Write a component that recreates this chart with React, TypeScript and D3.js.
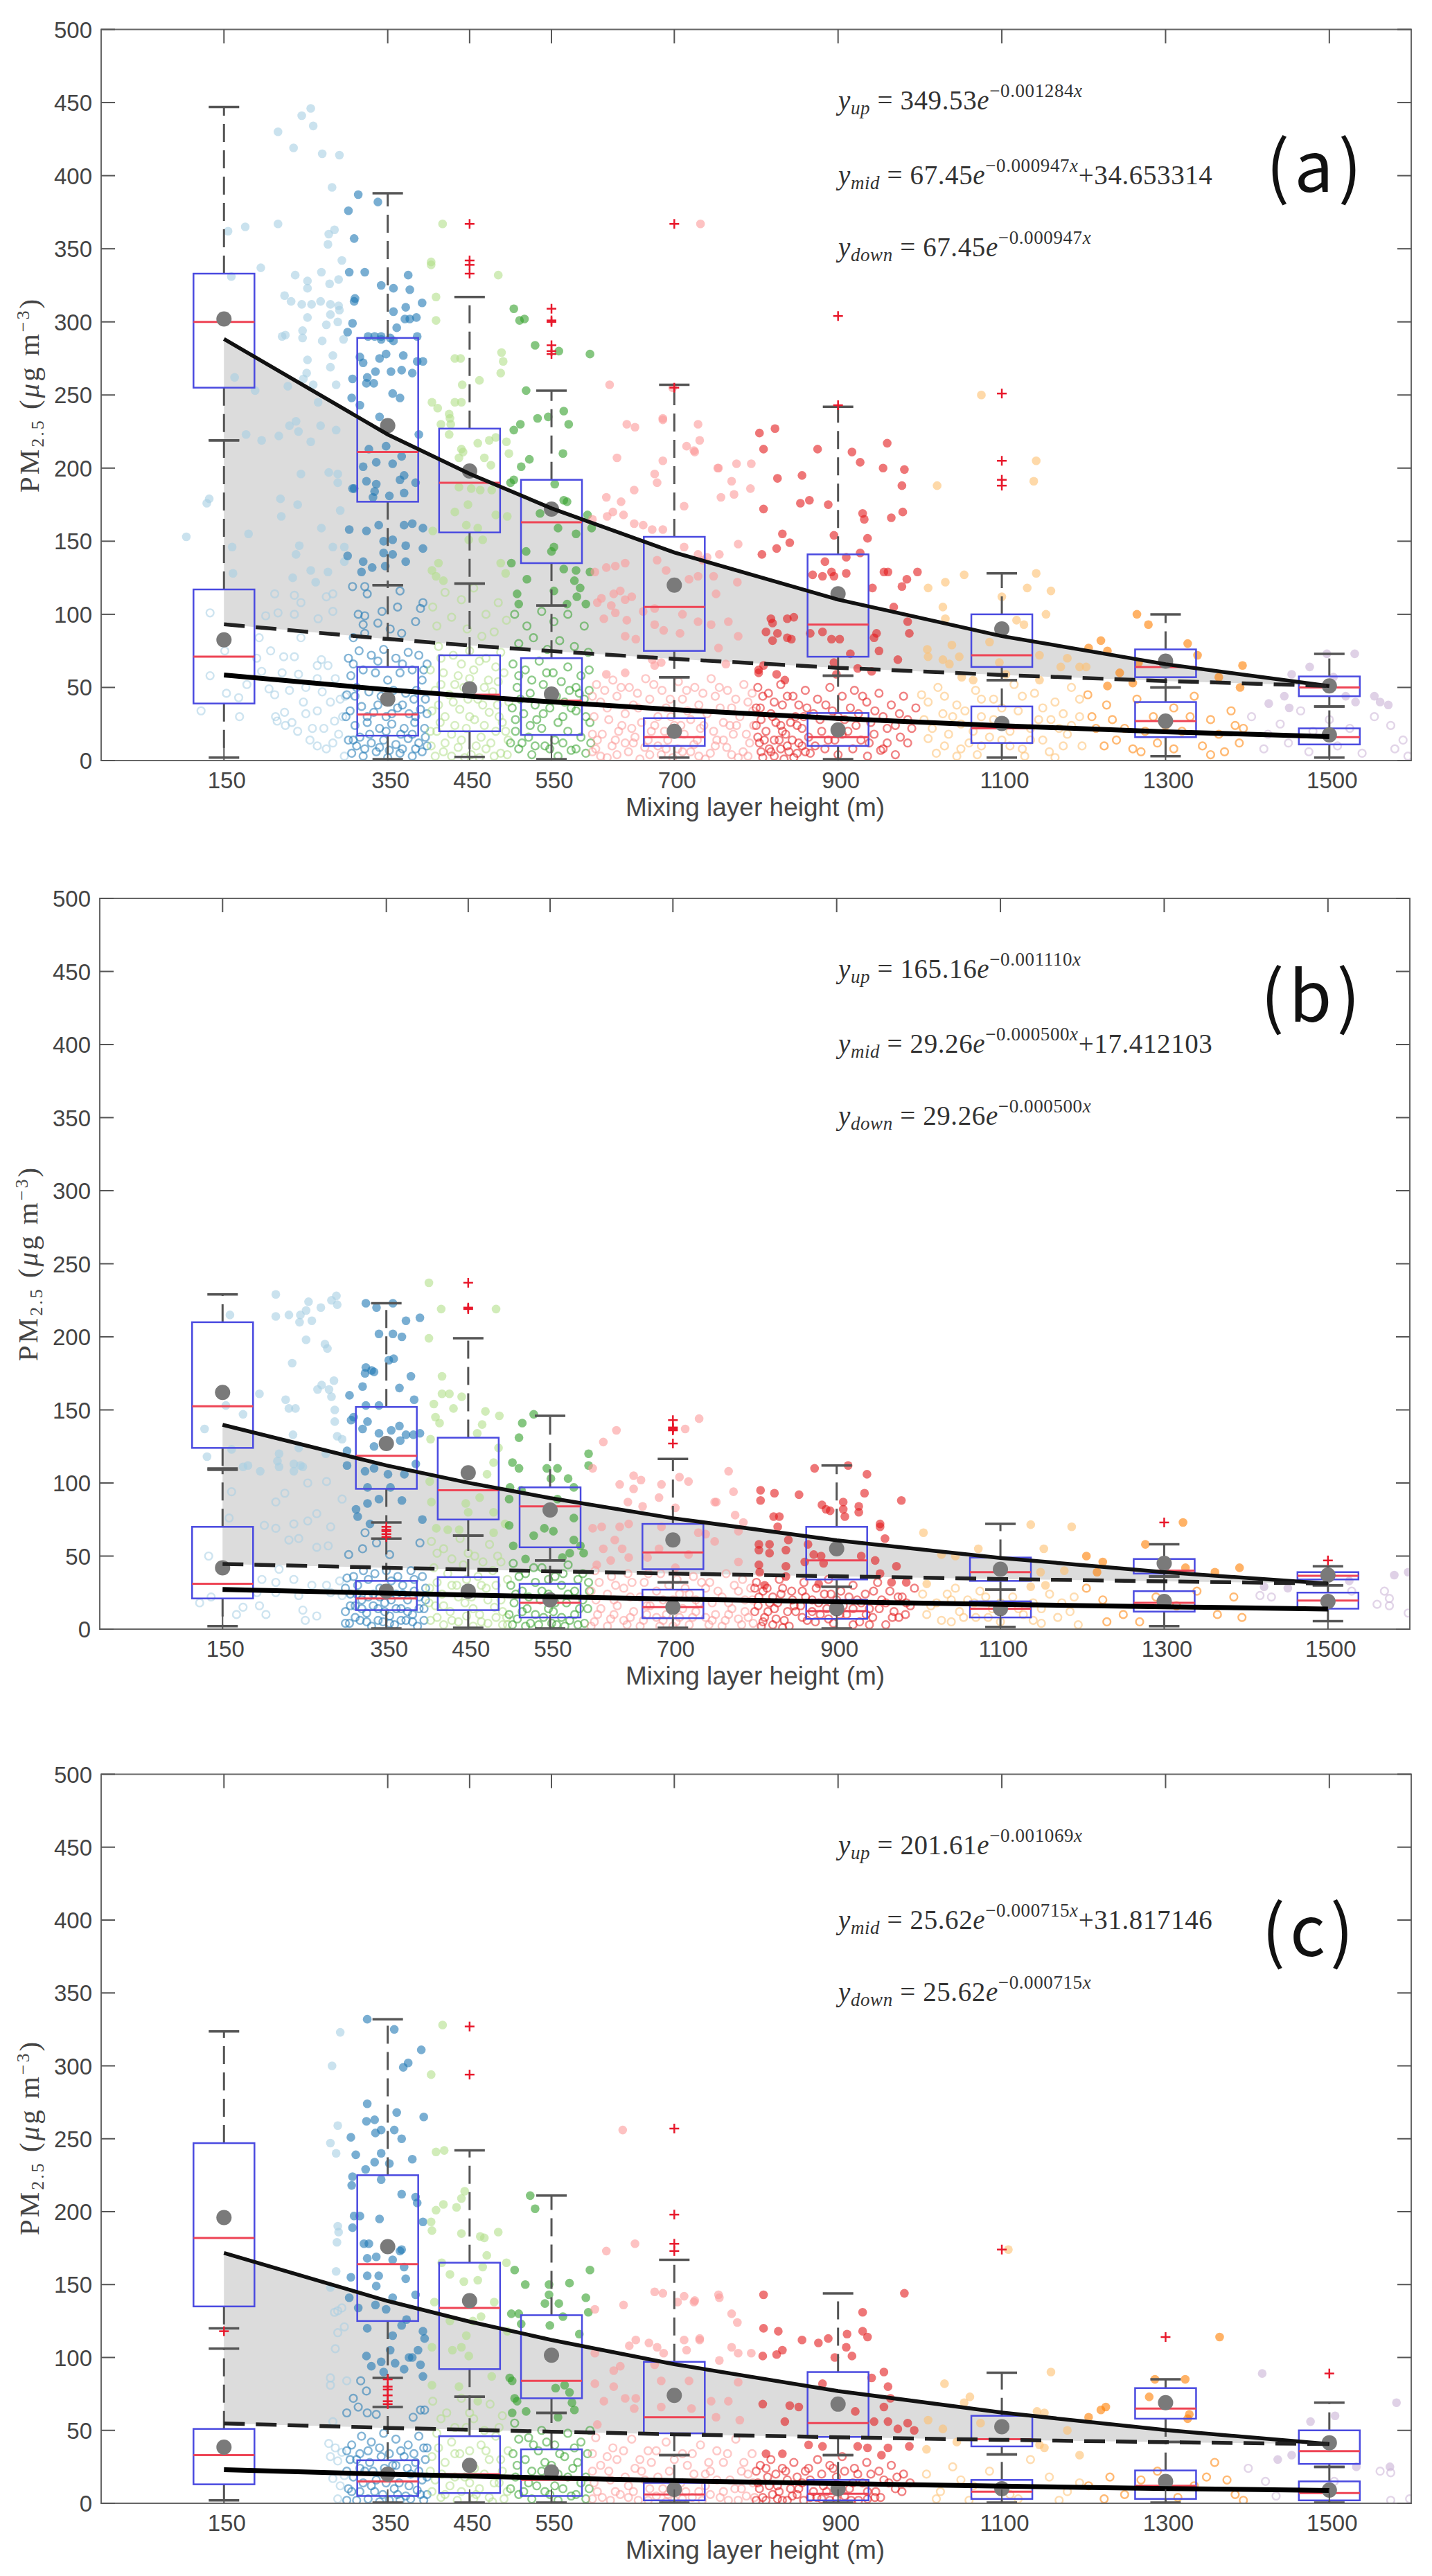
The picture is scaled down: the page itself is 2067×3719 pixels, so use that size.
import React from "react";
import * as d3 from "d3";

const categories = [150, 350, 450, 550, 700, 900, 1100, 1300, 1500];
const yTicks = [0, 50, 100, 150, 200, 250, 300, 350, 400, 450, 500];
const binColors = ["#a6cee3", "#1f78b4", "#b2df8a", "#33a02c", "#fb9a99", "#e31a1c", "#fdbf6f", "#ff7f00", "#cab2d6"];

// fitted curves read at each category
const aUp = [288.3, 223.0, 196.1, 172.5, 142.3, 110.1, 85.1, 65.9, 50.9];
const aMid = [93.2, 83.1, 78.7, 74.8, 69.5, 63.4, 58.5, 54.4, 51.0];
const aDown = [58.5, 48.4, 44.0, 40.1, 34.8, 28.8, 23.8, 19.7, 16.3];
const bUp = [139.8, 112.0, 100.2, 89.7, 75.9, 60.8, 48.7, 39.0, 31.2];
const bMid = [44.6, 42.0, 40.8, 39.6, 38.0, 36.1, 34.3, 32.7, 31.2];
const bDown = [27.1, 24.6, 23.4, 22.2, 20.6, 18.7, 16.9, 15.3, 13.8];
const cUp = [171.7, 138.7, 124.6, 112.0, 95.4, 77.0, 62.2, 50.2, 40.6];
const cMid = [54.8, 51.7, 50.4, 49.1, 47.3, 45.3, 43.5, 41.9, 40.6];
const cDown = [23.0, 19.9, 18.6, 17.3, 15.5, 13.5, 11.7, 10.1, 8.8];

// boxes: [q1, median, q3, whiskerLow, whiskerHigh, mean]
const aBoxUpper = [[255,300,333,219,447,302],[177,211,289,120,388,229],[156,190,227,121,317,198],[135,163,192,106,253,172],[75,105,153,57,257,120],[71,93,141,58,242,114],[64,72,100,55,128,90],[57,64,76,50,100,68],[44,50,57.5,37,73,51]];
const aBoxLower = [[39,71,117,2,219,82.5],[17,31.5,64,1,120,42],[20,45,72,2.5,121,49],[17.5,41,70,1,106,45.5],[10,16,29,2,57,20],[10,16,32.5,1,58,21],[12,22,37,2,55,25.4],[16,27,40,3,50,27],[11,16,22,2,37,17.5]];
const bBoxUpper = [[124,152.5,210,110,229,162],[96,118.6,152,73,223,127],[75,95,131,64,199,107],[56,84,97,47,146,81.5],[41,52.5,72,32,116.5,61],[34,47,70,29,112,55],[33,39,49,27,72,41],[38,40,48,36,58,45],[34,36.5,39,30,43,37]];
const bBoxLower = [[21,31,70,2,109,42],[13,21,33,0.5,62,26],[13,23,35.6,1,64,26],[8,18,31,0.5,47,20],[7.5,15,27,1,32,15],[7,12.3,20,0.5,29,14],[8,14,19,1.5,27,14],[12,18,26,2,36,19],[14,19.6,25,5.5,30,19]];
const cBoxUpper = [[135,182,247,120,323.6,196],[125,164,225,86,332,176],[92,134,165,73,242,139],[72,84,129,62,211,101.5],[48,59,97,33,167,74],[45.5,55,90,33,144,68],[39,44,60,33.5,89.5,52.5],[58,65,79,42,85,69],[27,35.7,50,25,69,41.5]];
const cBoxLower = [[13,33,51,2,106,38.5],[5,15,29.5,0.5,66,20],[7,20,46,0.5,73,26],[5,16,37,0.5,62,21.5],[2,6,14,0.5,33,9.5],[2,6.5,16,0.5,33,10],[3,8,16,0.5,33.5,10],[3,12,22.5,0.5,42,15],[2,7,15,0.5,25,9]];

// outliers, flat [category, value, ...]
const aOutliers = [450,367,450,342,450,339,450,333,550,309,550,301,550,300,550,284,550,280,550,278,700,367,700,255,900,304,900,243,1100,251,1100,205,1100,192,1100,188];
const bOutliers = [350,63,350,65,350,67,350,68,350,70,450,237,450,219,450,220,700,127,700,136,700,137,700,138,700,143,1300,73,1500,47];
const cOutliers = [150,118,350,85,350,80,350,78,350,74,350,70,350,68,450,327,450,294,700,257,700,198,700,178,700,173,1100,174,1300,114,1500,89];

// filled dots, flat [height, pm, ...], one list per height bin
const aFilled0 = [256,446,245,441,259,434,216,430,235,419,270,415,291,414,282,392,216,367,176,365,155,362,285,363,278,360,277,353,294,342,195,337,237,332,269,334,159,331,290,329,252,328,279,326,252,323,224,318,232,314,245,312,257,312,268,314,280,312,290,311,291,308,280,305,252,303,289,300,275,298,246,294,225,291,221,290,246,289,270,287,296,288,283,277,252,274,280,269,251,265,247,261,163,262,259,257,228,256,287,257,188,253,265,245,238,232,230,229,268,229,177,223,217,222,241,225,287,226,196,219,256,218,244,196,278,197,289,196,289,190,219,179,240,175,292,171,220,167,269,159,180,155,283,146,297,146,242,147,238,141,160,146,297,136,161,128,256,130,277,129,234,125,262,122,132,179,129,176,104,153];
const aFilled1 = [314,387,338,382,302,376,309,357,303,334,322,334,375,332,342,325,357,323,377,322,310,316,309,314,392,313,372,310,357,307,371,302,385,303,377,302,307,299,361,296,301,293,326,290,334,290,342,290,353,289,386,290,342,288,357,287,316,276,348,278,369,277,340,275,320,272,393,273,386,273,335,266,354,266,367,267,380,265,325,262,307,261,324,258,333,258,356,251,365,248,306,248,316,243,340,235,388,223,327,213,348,215,320,201,336,204,356,203,367,208,370,195,365,192,324,191,384,190,336,189,307,186,334,184,370,183,352,181,332,180,309,186,339,161,370,161,380,162,393,159,303,158,324,157,345,150,356,151,372,147,393,145,301,140,345,142,356,141,372,136,320,136,331,132,347,133,318,129];
const aFilled2 = [417,367,403,341,403,339,485,332,409,317,409,301,432,275,439,275,489,279,491,273,462,260,441,257,488,265,404,245,411,241,432,245,440,245,425,237,426,234,415,230,427,230,425,223,460,217,474,219,482,221,495,218,440,213,442,211,468,207,498,210,476,202,437,207,454,198,437,187,452,186,463,185,477,185,448,175,482,168,432,170,496,167,460,159,446,161,405,157,404,130,412,135,409,126,418,123,488,135,494,128,449,151,466,151];
const aFilled3 = [504,309,511,301,517,302,530,284,559,280,597,278,519,253,565,239,512,230,504,226,533,234,546,235,571,230,564,210,523,206,513,201,504,192,500,190,554,189,565,178,569,177,594,168,536,169,599,159,558,159,580,155,519,143,553,146,550,143,501,135,597,129,565,131,580,130,520,124,578,123,553,116,585,118,508,114,581,112,569,107,510,107,592,107];
const aFilled4 = [732,367,621,257,698,255,642,230,652,228,686,233,729,230,686,234,731,219,715,215,724,212,630,207,686,205,676,196,679,190,753,200,651,185,617,180,635,177,625,170,638,168,600,165,618,167,651,162,662,161,686,158,712,174,673,158,712,146,679,137,640,135,628,133,617,132,603,129,690,130,729,141,735,137,729,126,718,124,626,114,634,116,611,111,640,110,623,106,648,112,606,108,628,101,614,97,662,102,676,104,642,96,687,89,676,93,710,100,729,95,707,87,640,85,653,83,673,69,684,67,640,60,617,59,676,65,725,211,754,200,776,203,794,203,770,191,793,186,757,180,773,182,778,148,755,141,740,139,748,126,777,122,751,114,766,95,745,93,778,85,754,77,763,66];
const aFilled5 = [804,224,823,227,809,213,875,213,917,211,960,217,927,204,955,200,981,199,826,193,856,195,978,188,854,176,865,178,888,175,979,170,809,172,930,169,932,165,965,166,832,155,841,149,895,154,936,152,825,145,807,141,927,142,910,139,884,136,869,127,881,126,892,129,910,128,895,126,956,129,961,129,997,129,984,124,978,119,942,118,968,105,818,97,838,97,846,98,820,94,812,88,826,87,838,84,843,83,820,82,866,87,881,88,892,83,902,83,944,84,947,87,985,95,987,87,915,73,950,75,973,69,895,67,809,65,803,62,803,60,825,59,941,61,924,63,835,55,898,59];
const aFilled6 = [1142,205,1139,191,1021,188,1075,250,1054,127,1142,128,1031,122,1010,118,1131,118,1160,116,1100,112,1028,105,1154,100,1118,96,1127,93,1031,97,1009,76,1010,71,1085,81,1039,79,1028,69,1036,66,1048,71,1146,72,1180,70,1097,67,1172,64,1195,64,1203,64,1065,55,1146,55,1105,59,1051,57];
const aFilled7 = [1265,100,1279,93,1221,82,1327,80,1206,77,1229,75,1394,65,1339,72,1267,67,1244,60,1229,51,1260,53,1391,50,1365,57];
const aFilled8 = [1531,73,1497,73,1476,64,1454,59,1505,57,1445,44,1426,39,1532,40,1520,44,1555,44,1562,40,1572,38,1451,36];

const bFilled0 = [215,229,289,228,283,225,255,224,290,222,270,220,252,218,159,215,215,214,231,215,245,215,259,211,244,210,252,198,275,195,278,192,235,182,286,170,271,167,266,164,280,164,195,161,283,159,227,157,231,151,239,151,287,150,154,153,175,147,287,142,128,137,290,132,236,133,296,130,161,123,243,124,131,118,219,120,217,115,219,111,237,113,245,112,181,112,175,111,248,111,237,108,196,108,276,120];
const bFilled1 = [325,223,338,220,358,223,391,213,374,211,341,202,358,202,369,200,353,184,359,185,325,179,324,175,335,176,332,177,380,173,366,165,321,166,305,160,384,157,325,153,341,153,310,145,307,143,327,142,321,137,341,134,366,139,356,136,374,133,391,134,383,133,335,125,367,129,302,122,386,113,302,112,324,108,335,110,372,106,352,106,355,97,327,97,341,89,369,88,327,86,313,82,315,77,330,72,394,75];
const bFilled2 = [402,237,417,219,484,219,402,199,418,173,418,161,427,161,442,159,408,154,432,151,471,149,488,146,410,145,415,141,467,140,461,134,404,130,481,114,487,124,473,106,403,101,405,87,464,90,447,86,481,80,450,80,411,69,425,68,439,68,481,66,495,72];
const bFilled3 = [530,147,516,141,512,131,597,120,597,112,504,114,512,110,546,110,559,110,572,103,551,103,501,97,515,95,579,97,559,89,500,89,579,76,543,69,554,67,500,71,530,64,579,61,505,57,587,57,574,52,591,52,565,49,520,48];
const bFilled4 = [732,144,715,137,631,136,615,128,602,110,652,105,719,101,635,99,661,102,652,96,686,99,708,104,753,87,683,90,645,87,703,83,663,84,602,69,613,70,635,70,646,72,629,61,615,55,638,55,686,70,731,66,624,47,607,44,646,49,683,55,669,49,719,51,703,42,768,108,774,94,751,87,776,78,786,73,780,67,740,65,751,60,780,46];
const bFilled5 = [914,112,873,110,937,106,807,95,824,93,854,92,934,93,807,88,979,88,882,85,908,87,927,84,908,82,892,81,887,82,927,80,910,77,823,77,830,77,953,72,953,70,828,70,959,62,841,61,805,58,818,58,805,54,818,52,838,54,865,58,872,51,881,50,901,56,947,47,973,43,805,44,838,43,861,46,884,45,930,50,953,38,806,39,838,36,985,32,967,32,878,31,812,30];
const bFilled6 = [1137,71.5,1187,70,1006,66,1153,55,1073,55,1045,50,1028,51,1149,39,1178,40,1010,31,1137,29,1155,30];
const bFilled7 = [1323,73,1277,58,1205,50,1225,46,1326,42,1392,42,1218,39,1362,39];
const bFilled8 = [1598,39,1581,37,1526,33,1422,29,1451,28];

const cFilled0 = [292,323,282,300,289,259,280,247,287,240,289,190,290,186,288,179,287,159,280,148];
const cFilled1 = [325,332,358,325,391,311,375,302,369,299,325,274,394,265,361,268,324,262,334,263,342,256,335,254,358,256,367,250,305,251,311,239,342,240,380,236,334,234,352,233,323,229,342,222,307,224,306,218,367,212,384,210,386,206,393,193,316,197,309,197,340,195,307,189,321,178,327,178,367,174,365,173,325,168,336,169,356,167,370,162,325,156,339,156,305,155,372,154,336,149,384,143,356,141,303,141,314,134,335,136,348,133,325,120,356,115,373,126,367,122,393,118,395,113,387,105,353,105,324,101,376,100,380,100,342,97,359,96,370,92,390,95,330,94,345,90,393,87];
const cFilled2 = [417,328,403,294,409,241,419,242,444,214,440,209,418,205,409,201,434,203,403,193,404,187,485,186,440,185,463,183,468,182,471,170,495,165,416,165,466,162,426,157,460,153,443,152,407,138,480,138,464,128,426,125,454,125,446,115,404,107,440,107,429,105,449,101,496,118,404,81,437,80,477,87,460,70];
const cFilled3 = [524,211,530,202,597,160,505,160,518,150,547,150,572,151,547,143,592,141,542,137,559,137,595,131,501,130,510,130,548,122,564,128,513,123,584,116,499,86,502,84,555,79,572,76,566,81,505,72,508,70,575,69,502,62,519,63,578,64,558,59];
const cFilled4 = [637,256,617,173,652,178,676,145,686,144,638,136,603,133,755,141,712,142,724,138,704,138,731,112,653,112,645,108,669,110,679,107,687,103,715,105,712,112,603,103,634,94,626,91,676,95,603,82,626,80,684,84,640,72,653,72,614,70,718,84,651,65,721,65,606,54,684,66,754,143,725,139,770,130,777,124,731,113,770,107,778,103,794,103,755,98,778,83,745,70,766,70,751,59,780,57];
const cFilled5 = [809,143,981,144,930,131,809,120,827,118,930,118,936,114,911,116,888,113,856,112,876,110,910,107,832,105,825,102,808,101,896,100,917,101,956,90,881,82,941,86,961,80,964,72,808,68,841,67,852,66,835,56,921,63,956,66,944,56,961,56,973,51,985,55,993,50,864,40,881,39,924,39,936,38,961,38,987,39,812,34,832,34,953,33];
const cFilled6 = [1108,174,1160,90,1030,82,1061,73,1180,50,1010,57,1143,63,1152,62,1074,55,1054,69,1195,33,1045,42,1146,40,1152,38,1008,37,1028,51];
const cFilled7 = [1366,114,1324,85,1287,85,1280,73,1227,66,1221,64,1329,61,1327,58,1206,59];
const cFilled8 = [1418,89,1582,69,1507,60,1477,56,1437,30,1454,33,1574,25,1533,25];

// open rings, flat [height, pm, ...], one list per height bin
const aRing0 = [133,101,133,58,122,34,153,46,168,43,169,30,151,75,193,84,207,75,223,71,236,71,269,69,264,65,277,65,244,84,196,61,221,60,241,59,205,49,264,56,213,30,224,33,233,26,247,40,264,34,280,40,292,42,258,22,272,22,283,12,264,10,297,3,265,97,283,102,236,100,201,99,216,101,212,114,236,113,283,114,275,112,244,108,215,27,225,24,240,20,250,32,255,14,285,27,290,18,295,30,275,8,298,44,270,47,286,56,250,50,230,48,212,45,190,70,178,52];
const aRing1 = [307,119,322,119,365,116,325,114,343,102,362,105,314,100,322,99,390,104,393,108,320,93,338,94,353,90,367,87,384,95,308,84,322,87,302,70,315,75,330,72,345,76,360,70,375,74,388,72,398,66,305,58,320,62,335,60,350,55,365,60,380,62,392,55,300,45,312,50,327,47,342,44,357,48,372,46,385,48,396,42,304,34,318,37,333,33,348,30,362,36,376,32,390,35,310,24,325,26,340,22,355,25,370,22,383,26,395,22,302,14,316,16,330,12,345,14,360,11,375,15,388,12,398,10,306,5,320,3,336,6,350,2,365,5,380,3,392,6,308,66,338,68,368,66,394,62,310,44,338,38,352,40,368,38,382,42,299,30,325,30,355,32,384,30,398,32,312,10,322,8,340,9,352,7,368,8,384,8,396,16,308,14,328,18,348,20,366,18,380,18];
const aRing2 = [405,105,420,115,440,110,455,118,470,100,485,108,495,96,410,92,428,98,447,90,465,85,480,88,412,78,430,72,450,75,470,70,488,74,402,62,418,60,436,58,455,62,473,55,492,60,408,48,425,45,443,50,460,42,478,47,498,40,404,34,420,30,438,35,456,28,474,33,490,26,410,20,428,18,446,22,464,16,482,20,497,14,403,10,418,6,436,9,452,4,470,8,488,5,415,70,440,66,462,68,482,64,415,52,432,52,450,56,468,50,485,54,412,38,430,40,448,42,466,38,484,38,414,26,432,24,450,30,468,24,486,30,402,20,420,12,440,14,458,10,476,12,494,20,408,3,428,3,444,2,462,2,480,3,496,4];
const aRing3 = [505,100,520,92,538,102,553,95,570,100,590,92,510,80,528,84,545,76,560,82,578,78,595,74,503,66,518,62,535,68,552,60,570,64,586,58,508,50,524,46,540,52,556,44,572,48,590,42,502,36,516,32,532,28,548,36,564,30,580,34,597,26,506,20,522,16,538,22,554,14,570,20,586,16,510,8,526,4,542,10,558,3,574,7,592,5,510,58,526,55,544,60,562,54,580,50,596,62,512,42,530,38,548,44,566,40,584,46,596,48,506,28,524,24,540,32,558,26,574,36,592,30,500,12,514,12,530,10,548,8,564,12,580,8,598,12];
const aRing4 = [605,52,625,55,645,50,665,56,685,48,705,54,725,50,745,56,765,48,785,52,610,40,630,44,650,38,670,42,690,36,710,42,730,38,750,44,770,36,790,40,602,30,620,28,640,32,660,26,680,30,700,24,720,28,740,32,760,26,780,30,797,24,612,18,632,20,652,16,672,20,692,14,712,18,732,22,752,14,772,18,792,12,604,8,624,10,644,6,664,9,684,4,704,8,724,11,744,5,764,9,784,6,618,2,658,1,698,2,738,1,778,2,600,44,615,48,635,50,655,46,675,52,695,42,715,48,735,46,755,50,775,42,795,46,600,18,618,36,636,24,656,36,676,24,696,30,716,34,736,24,756,36,776,24,796,34,606,14,628,14,648,22,668,14,688,20,708,24,728,14,748,20,768,24,788,18,610,3,630,4,650,12,670,4,690,8,710,6,730,3,750,10,770,4,790,3,600,6,640,12,680,10,720,6,760,14];
const aRing5 = [802,50,815,46,830,52,845,44,860,48,875,42,890,50,905,44,920,48,935,40,950,46,965,38,980,44,995,36,805,36,818,32,832,38,848,30,862,36,878,28,893,34,908,28,925,32,940,26,955,30,970,24,985,28,800,24,812,20,824,26,836,18,850,24,864,16,880,20,896,14,912,20,928,14,944,18,960,12,976,16,804,12,816,8,828,14,840,6,852,12,866,5,884,8,900,4,918,8,936,3,952,7,970,4,808,2,822,3,834,1,846,2,800,36,808,44,822,40,838,44,852,38,858,30,806,28,820,30,830,24,842,26,856,22,802,16,810,14,822,14,832,20,844,14,856,10,806,6,818,6,830,8,838,10,850,5,860,6,870,32,885,38,900,30,915,36,930,44,945,34,960,22,975,32,990,22,872,10,888,14,905,18,922,24,938,12,955,8,985,12];
const aRing6 = [1002,45,1022,50,1045,38,1068,48,1090,42,1115,52,1140,46,1165,40,1185,50,1005,28,1028,32,1050,25,1075,30,1098,24,1120,34,1145,28,1170,22,1195,30,1010,15,1035,18,1060,12,1085,16,1110,10,1135,14,1158,6,1180,18,1198,10,1020,5,1045,3,1070,4,1128,3,1165,2,1010,40,1030,44,1055,34,1075,42,1100,36,1125,44,1150,36,1175,32,1195,42,1015,22,1040,30,1065,20,1090,28,1110,20,1135,22,1160,28,1185,24,1030,10,1050,8,1075,10,1100,14,1125,8,1150,14,1175,10];
const aRing7 = [1205,45,1228,38,1250,22,1265,42,1285,30,1310,36,1335,44,1355,28,1380,34,1395,22,1215,22,1240,14,1260,8,1290,12,1320,20,1345,10,1372,6,1390,12,1210,30,1235,28,1275,20,1300,24,1330,30,1365,18,1385,24,1225,10,1270,6,1310,8,1355,4];
const aRing8 = [1405,30,1425,18,1440,25,1465,34,1480,20,1500,28,1525,22,1555,30,1575,24,1590,14,1420,8,1450,12,1475,6,1510,10,1540,5,1580,8,1596,3];

const bRing0 = [254,100,277,101,161,94,226,93,296,89,215,87,265,79,158,76,254,74,237,72,201,71,215,69,282,70,243,62,231,61,279,57,265,56,133,50,219,41,198,34,215,32,237,34,259,30,277,30,293,33,282,25,243,23,215,25,192,25,122,18,136,22,175,15,195,16,203,10,167,10,248,13,265,9,251,6,296,23];
const bRing1 = [324,66,338,59,391,59,321,55,304,51,354,51,302,35,315,30,328,34,342,28,356,33,370,30,384,34,398,28,306,24,320,20,334,24,348,18,362,24,376,20,390,22,300,12,312,16,326,11,340,14,354,9,368,14,382,10,396,14,305,4,318,6,332,2,346,5,360,3,374,6,388,2,300,28,314,24,328,22,342,22,356,20,370,24,384,26,398,20,306,16,320,14,334,16,348,12,362,14,376,12,390,14,300,4,312,8,326,5,340,6,354,4,368,6,382,5,396,6,310,36,322,40,336,38,350,40,364,36,380,40,394,36];
const bRing2 = [405,60,420,55,440,62,458,50,476,58,490,46,408,42,425,38,444,44,462,36,480,40,498,34,403,28,418,24,436,30,454,22,472,28,490,20,410,16,428,12,446,18,464,10,482,15,497,8,404,6,420,3,438,5,456,2,474,4,492,3,412,52,430,48,450,52,468,46,486,50,412,32,430,30,448,34,466,30,484,30,402,18,420,16,438,22,456,14,474,20,492,12,412,8,430,6,448,9,466,5,484,8,498,3];
const bRing3 = [505,45,520,38,540,42,556,36,572,44,590,38,502,30,516,26,532,32,548,24,564,30,580,26,597,32,506,18,522,14,538,20,554,12,570,18,586,14,510,7,526,4,542,8,558,3,574,6,592,4,512,36,530,42,548,34,566,38,584,34,598,26,508,24,524,22,540,26,556,18,572,24,590,20,500,10,516,12,532,10,548,14,564,8,580,10,596,14,504,3,520,2,536,3,552,4,568,2,584,3];
const bRing4 = [605,40,625,36,645,38,665,32,685,38,705,34,725,36,745,32,765,38,785,34,600,26,620,24,640,28,660,22,680,26,700,20,720,24,740,28,760,22,780,26,797,20,612,14,632,16,652,12,672,16,692,10,712,14,732,18,752,10,772,14,792,8,604,5,624,7,644,3,664,6,684,2,704,5,724,8,744,3,764,6,784,3,610,32,630,30,650,32,670,38,695,30,715,28,735,32,755,26,775,30,795,28,606,20,628,20,648,22,668,16,688,20,708,24,728,20,748,18,768,18,788,20,608,10,628,10,648,8,668,10,688,6,708,8,728,12,748,6,768,10,788,12,600,2,620,2,640,6,660,2,680,8,700,2,720,3,740,8,760,2,780,7,798,4];
const bRing5 = [802,32,815,28,830,34,845,26,860,32,875,28,890,34,905,26,920,30,935,24,950,32,965,26,980,22,995,28,805,22,818,18,832,24,848,16,862,22,878,18,893,24,908,16,925,20,940,14,955,20,970,12,985,18,800,12,812,8,824,14,836,6,850,12,864,6,880,10,896,4,912,10,928,5,944,8,960,3,976,8,808,2,822,3,834,1,800,28,810,26,822,22,834,28,846,20,858,26,870,20,885,24,900,20,915,22,930,18,945,26,960,18,975,22,990,16,804,16,816,12,828,18,840,12,856,16,870,12,888,14,904,10,920,14,936,10,952,14,968,8,984,10,810,5,826,7,842,2,858,8,874,5,890,7,920,3,940,3];
const bRing6 = [1005,24,1022,18,1035,24,1045,28,1060,20,1075,26,1090,14,1115,22,1140,18,1160,24,1185,12,1010,10,1028,6,1050,12,1070,8,1100,5,1128,10,1150,4,1170,8,1195,3,1015,16,1040,20,1055,8,1068,18,1082,22,1100,18,1122,14,1150,14,1175,18,1190,22,1040,5,1085,8,1140,6];
const bRing7 = [1205,28,1225,20,1250,10,1270,5,1290,22,1315,16,1340,26,1365,10,1385,22,1395,8,1230,5];
const bRing8 = [1417,23,1431,22,1569,26,1575,21,1560,17,1575,16,1598,11,1529,26];

const cRing0 = [289,132,285,131,294,134,297,121,289,117,286,106,280,86,280,81,300,84,283,56,278,41,286,38,294,35,280,32,289,29,283,17,292,12,297,19,289,3];
const cRing1 = [324,77,317,84,308,72,314,66,325,62,336,61,390,64,395,64,381,59,300,62,306,40,318,46,330,42,345,48,360,44,375,40,388,46,398,38,304,30,316,34,328,28,342,32,356,26,370,32,384,28,396,30,308,18,322,22,336,16,350,20,364,14,378,20,392,16,302,10,316,8,330,12,344,6,358,10,372,5,386,9,398,6,312,2,340,1,365,2,300,36,312,30,326,36,340,38,352,34,366,36,382,34,394,38,300,22,316,24,332,22,346,24,360,26,374,24,388,22,398,18,306,8,320,14,334,8,348,14,362,6,376,12,390,6,300,2,326,3,352,2,378,3,394,2];
const cRing2 = [405,70,422,62,440,72,455,58,475,68,490,60,410,48,428,42,446,52,464,40,482,46,497,36,404,32,420,28,438,34,456,24,474,30,490,22,408,16,426,12,444,18,462,10,480,14,496,8,415,4,435,2,455,3,478,1,415,58,432,52,450,62,468,50,486,52,412,38,432,34,450,36,470,36,488,30,402,22,416,20,432,18,450,14,468,20,486,14,404,8,420,6,440,8,458,6,474,4,492,3];
const cRing3 = [505,55,522,45,538,50,554,40,570,48,586,42,597,50,503,34,518,30,534,36,550,26,566,32,582,28,506,18,522,14,538,22,554,12,570,18,586,14,510,6,526,3,542,8,558,2,574,5,592,3,510,44,528,40,544,42,560,34,578,38,594,34,508,26,526,22,542,28,558,20,576,24,592,18,500,10,516,8,532,12,548,6,564,10,580,6,596,10];
const cRing4 = [604,45,625,38,648,44,668,36,690,42,710,34,732,40,752,36,775,44,795,34,610,26,630,30,652,24,672,28,694,22,716,26,738,20,760,28,782,22,602,14,622,16,644,12,664,16,686,10,708,14,730,8,752,16,774,10,796,14,612,4,634,6,656,2,678,5,700,2,722,4,744,6,766,2,788,5,600,34,618,32,638,36,658,30,678,36,700,30,722,34,742,28,765,34,785,28,600,22,620,22,640,18,660,22,680,18,700,14,724,20,744,22,768,16,790,20,606,8,628,8,650,8,670,10,692,6,714,8,738,12,760,8,782,10,600,3,622,2,644,4,668,2,690,1,710,3,734,2,756,4,778,2,798,4];
const cRing5 = [805,26,818,30,832,24,846,28,860,22,875,30,890,26,905,32,920,24,935,28,950,22,965,26,980,20,802,14,814,18,826,12,838,16,852,10,866,16,882,12,898,18,914,10,930,14,946,8,962,14,978,8,808,4,820,6,832,2,844,5,858,2,874,4,890,2,908,5,925,2,945,4,800,22,812,24,824,20,836,22,850,18,864,24,880,20,894,24,908,22,924,20,940,20,956,16,972,18,988,14,804,10,816,12,828,8,842,10,856,14,870,8,886,8,902,10,918,14,936,8,952,4,970,10,800,2,812,2,826,3,838,2,850,6,866,4,880,3,898,3,916,2,936,3];
const cRing6 = [1008,20,1025,8,1040,25,1050,16,1065,12,1085,22,1110,6,1135,30,1158,18,1180,8,1195,14,1020,3,1060,2,1120,3,1170,2];
const cRing7 = [1206,12,1232,18,1250,6,1270,16,1290,22,1315,4,1335,12,1360,28,1375,16,1385,6,1395,2,1225,3,1350,18];
const cRing8 = [1401,24,1422,15,1435,5,1562,22,1575,21,1575,2,1598,3,1506,15];

const aEq = [["up","349.53","−0.001284",""],["mid","67.45","−0.000947","+34.653314"],["down","67.45","−0.000947",""]];
const bEq = [["up","165.16","−0.001110",""],["mid","29.26","−0.000500","+17.412103"],["down","29.26","−0.000500",""]];
const cEq = [["up","201.61","−0.001069",""],["mid","25.62","−0.000715","+31.817146"],["down","25.62","−0.000715",""]];

const pairs = (f: number[]) => d3.range(0, f.length, 2).map((i) => [f[i], f[i + 1]]);

const panels = [
  { id: "a", label: "(a)", top: 42.5, bottom: 1098, left: 146, right: 2037, labelX: 1900, labelY: 277, eqY: [115, 223, 327], up: aUp, mid: aMid, down: aDown, upper: aBoxUpper, lower: aBoxLower, outliers: aOutliers, eq: aEq,
    filled: [aFilled0, aFilled1, aFilled2, aFilled3, aFilled4, aFilled5, aFilled6, aFilled7, aFilled8],
    rings: [aRing0, aRing1, aRing2, aRing3, aRing4, aRing5, aRing6, aRing7, aRing8] },
  { id: "b", label: "(b)", top: 1297, bottom: 2352, left: 144, right: 2035, labelX: 1895, labelY: 1475, eqY: [115, 223, 327], up: bUp, mid: bMid, down: bDown, upper: bBoxUpper, lower: bBoxLower, outliers: bOutliers, eq: bEq,
    filled: [bFilled0, bFilled1, bFilled2, bFilled3, bFilled4, bFilled5, bFilled6, bFilled7, bFilled8],
    rings: [bRing0, bRing1, bRing2, bRing3, bRing4, bRing5, bRing6, bRing7, bRing8] },
  { id: "c", label: "(c)", top: 2561.5, bottom: 3614, left: 146, right: 2037, labelX: 1891, labelY: 2824, eqY: [115, 223, 327], up: cUp, mid: cMid, down: cDown, upper: cBoxUpper, lower: cBoxLower, outliers: cOutliers, eq: cEq,
    filled: [cFilled0, cFilled1, cFilled2, cFilled3, cFilled4, cFilled5, cFilled6, cFilled7, cFilled8],
    rings: [cRing0, cRing1, cRing2, cRing3, cRing4, cRing5, cRing6, cRing7, cRing8] },
];

const sansFont = "'Liberation Sans', Arial, sans-serif";
const serifFont = "'Liberation Serif', serif";

function Box({ cat, v, x, y }: { cat: number; v: number[]; x: any; y: any }) {
  const [q1, med, q3, lo, hi, mean] = v;
  const cx = x(cat);
  const hw = 44;
  const capW = 22;
  const axisCol = "#555";
  return (
    <g>
      <line x1={cx} x2={cx} y1={y(q3)} y2={y(hi)} stroke={axisCol} strokeWidth={3} strokeDasharray="26 12" />
      <line x1={cx} x2={cx} y1={y(q1)} y2={y(lo)} stroke={axisCol} strokeWidth={3} strokeDasharray="26 12" />
      <line x1={cx - capW} x2={cx + capW} y1={y(hi)} y2={y(hi)} stroke={axisCol} strokeWidth={3.5} />
      <line x1={cx - capW} x2={cx + capW} y1={y(lo)} y2={y(lo)} stroke={axisCol} strokeWidth={3.5} />
      <rect x={cx - hw} width={hw * 2} y={y(q3)} height={y(q1) - y(q3)} fill="none" stroke="#4a4ae0" strokeWidth={2.5} />
      <line x1={cx - hw} x2={cx + hw} y1={y(med)} y2={y(med)} stroke="#ee4455" strokeWidth={3} />
      <circle cx={cx} cy={y(mean)} r={11} fill="#7a7a7a" />
    </g>
  );
}

function Panel({ p }: { p: (typeof panels)[number] }) {
  const x = d3.scaleLinear().domain([0, 1600]).range([p.left, p.right]);
  const y = d3.scaleLinear().domain([0, 500]).range([p.bottom, p.top]);
  const rows = categories.map((c, i) => ({ c, up: p.up[i], mid: p.mid[i], down: p.down[i] }));
  const area = d3.area<any>().x((d) => x(d.c)).y0((d) => y(d.mid)).y1((d) => y(d.up));
  const line = (k: "up" | "mid" | "down") => d3.line<any>().x((d) => x(d.c)).y((d) => y(d[k]))(rows)!;
  const tickLen = 20;
  return (
    <g>
      <clipPath id={`clip-${p.id}`}>
        <rect x={p.left} y={p.top} width={p.right - p.left} height={p.bottom - p.top} />
      </clipPath>
      <path d={area(rows)!} fill="#dcdcdc" />
      <g clipPath={`url(#clip-${p.id})`}>
        {p.rings.map((r, b) =>
          pairs(r).map(([h, v], i) => (
            <circle key={`r${b}-${i}`} cx={x(h)} cy={y(v)} r={5.4} fill="none" stroke={binColors[b]} strokeOpacity={0.55} strokeWidth={2.4} />
          ))
        )}
        {p.filled.map((r, b) =>
          pairs(r).map(([h, v], i) => (
            <circle key={`f${b}-${i}`} cx={x(h)} cy={y(v)} r={6.3} fill={binColors[b]} fillOpacity={0.6} />
          ))
        )}
      </g>
      {categories.map((c, i) => <Box key={`u${c}`} cat={c} v={p.upper[i]} x={x} y={y} />)}
      {categories.map((c, i) => <Box key={`l${c}`} cat={c} v={p.lower[i]} x={x} y={y} />)}
      {pairs(p.outliers).map(([c, v], i) => (
        <g key={`o${i}`} stroke="#e8192c" strokeWidth={2.5}>
          <line x1={x(c) - 7} x2={x(c) + 7} y1={y(v)} y2={y(v)} />
          <line x1={x(c)} x2={x(c)} y1={y(v) - 7} y2={y(v) + 7} />
        </g>
      ))}
      <path d={line("up")} fill="none" stroke="#111" strokeWidth={5.5} />
      <path d={line("mid")} fill="none" stroke="#222" strokeWidth={5.5} strokeDasharray="30 16" />
      <path d={line("down")} fill="none" stroke="#000" strokeWidth={7} />

      <rect x={p.left} y={p.top} width={p.right - p.left} height={p.bottom - p.top} fill="none" stroke="#666" strokeWidth={2} />
      {yTicks.map((t) => (
        <g key={t}>
          <line x1={p.left} x2={p.left + tickLen} y1={y(t)} y2={y(t)} stroke="#555" strokeWidth={2} />
          <line x1={p.right - tickLen} x2={p.right} y1={y(t)} y2={y(t)} stroke="#555" strokeWidth={2} />
          <text x={p.left - 13} y={y(t) + 12} textAnchor="end" fontFamily={sansFont} fontSize={33} fill="#444">{t}</text>
        </g>
      ))}
      {categories.map((c) => (
        <g key={c}>
          <line x1={x(c)} x2={x(c)} y1={p.top} y2={p.top + tickLen} stroke="#555" strokeWidth={2} />
          <line x1={x(c)} x2={x(c)} y1={p.bottom} y2={p.bottom - tickLen} stroke="#555" strokeWidth={2} />
          <text x={x(c) + 4} y={p.bottom + 40} textAnchor="middle" fontFamily={sansFont} fontSize={33} fill="#444">{c}</text>
        </g>
      ))}
      <text x={1090} y={p.bottom + 80} textAnchor="middle" fontFamily={sansFont} fontSize={37} fill="#444">Mixing layer height (m)</text>

      <text transform={`translate(${p.left - 90},${p.bottom - 528}) rotate(-90)`} textAnchor="middle" fontFamily={serifFont} fontSize={41} fill="#444" letterSpacing={3}>
        PM<tspan fontSize={26} dy={7}>2.5</tspan><tspan dy={-7}>{" "}(</tspan><tspan fontStyle="italic">μ</tspan>g m<tspan fontSize={26} dy={-14}>−3</tspan><tspan dy={14}>)</tspan>
      </text>

      {p.eq.map(([sub, coef, exp, tail], i) => (
        <text key={sub} x={1210} y={p.top + p.eqY[i]} fontFamily={serifFont} fontSize={39} fill="#333" letterSpacing={0.6}>
          <tspan fontStyle="italic">y</tspan>
          <tspan fontStyle="italic" fontSize={27} dy={7}>{sub}</tspan>
          <tspan dy={-7}>{` = ${coef}`}</tspan>
          <tspan fontStyle="italic">e</tspan>
          <tspan fontSize={27} dy={-18}>{exp}</tspan>
          <tspan fontSize={27} fontStyle="italic">x</tspan>
          <tspan dy={18}>{tail}</tspan>
        </text>
      ))}
      <text x={p.labelX} y={p.labelY} textAnchor="middle" fontFamily="'Noto Sans CJK JP', 'Noto Sans', sans-serif" fontSize={100} fill="#111" letterSpacing={7}>{p.label}</text>
    </g>
  );
}

export default function App() {
  return (
    <svg width={2067} height={3719} viewBox="0 0 2067 3719" style={{ position: "absolute", left: 0, top: 0, background: "#fff" }}>
      {panels.map((p) => <Panel key={p.id} p={p} />)}
    </svg>
  );
}
